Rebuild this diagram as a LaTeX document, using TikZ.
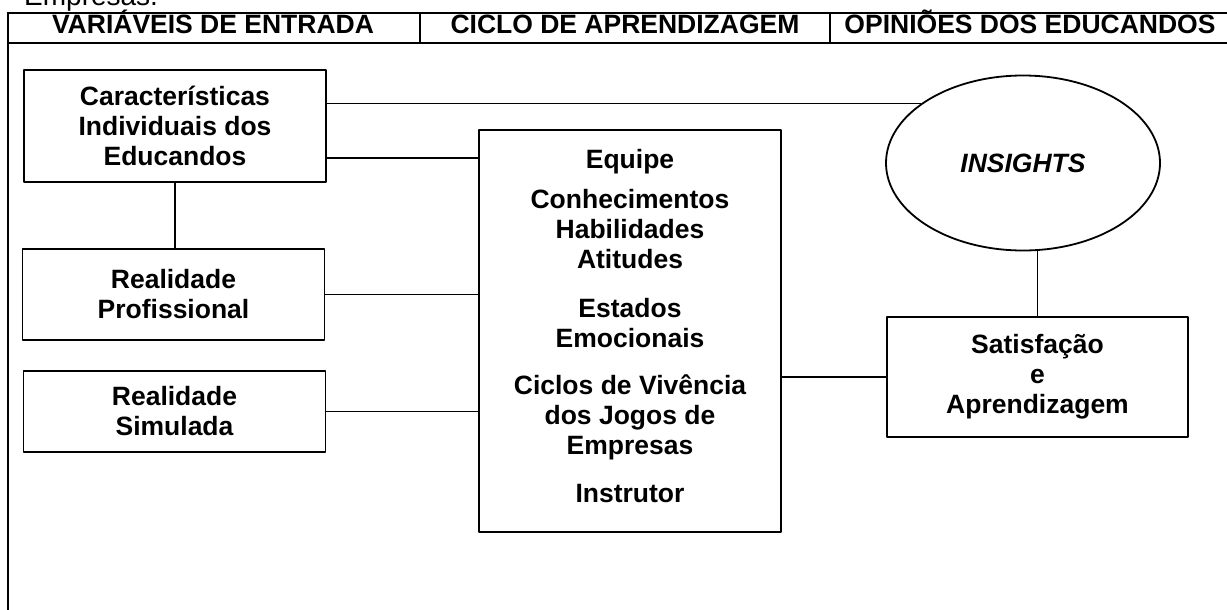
\documentclass[tikz,border=0pt]{standalone}
\usepackage{fontspec}
\setmainfont{Liberation Sans}
\usetikzlibrary{shapes.geometric}

\begin{document}
\begin{tikzpicture}[x=1pt, y=-1pt, line cap=round, line join=round,
  caixa/.style={draw, line width=1.6pt, rectangle, minimum width=302pt, inner sep=0pt, align=center, font=\fontsize{26.5}{30}\selectfont\bfseries},
  titulo/.style={anchor=base, inner sep=0pt, font=\fontsize{26.5}{30}\selectfont\bfseries},
  liga/.style={line width=1.3pt}]
\useasboundingbox (0,0) rectangle (1227,610);

% cabecalho da tabela
\node[anchor=base west, inner sep=0pt, font=\fontsize{28}{30}\selectfont] (emp) at (24,6) {Empresas.};
\draw[line width=2.2pt] (8,13) -- (1230,13);
\draw[line width=2.2pt] (8,43) -- (1230,43);
\draw[line width=2.2pt] (8,13) -- (8,612);
\draw[line width=1.8pt] (420,13) -- (420,43);
\draw[line width=1.8pt] (830,13) -- (830,43);
\node[titulo] (hEnt) at (213,34) {VARIÁVEIS DE ENTRADA};
\node[titulo] (hCic) at (625,34) {CICLO DE APRENDIZAGEM};
\node[titulo] (hOpi) at (1030,34) {OPINIÕES DOS EDUCANDOS};

% variaveis de entrada
\node[caixa, minimum height=112pt] (car) at (175,126) {Características\\Individuais dos\\Educandos};
\node[caixa, minimum height=91pt] (rpro) at (173.5,294.5) {Realidade\\Profissional};
\node[caixa, minimum height=81pt] (rsim) at (174.5,411.5) {Realidade\\Simulada};

% ciclo de aprendizagem (ancora na ultima linha)
\node[caixa, minimum height=402pt] (cen) at (630,331) {};
\node[titulo, align=center] (lista) at (630,502) {Equipe\\[10pt]Conhecimentos\\Habilidades\\Atitudes\\[19pt]Estados\\Emocionais\\[17pt]Ciclos de Vivência\\dos Jogos de\\Empresas\\[18pt]Instrutor};

% opinioes
\node[draw, ellipse, line width=1.8pt, minimum width=274pt, minimum height=175pt, inner sep=0pt, font=\fontsize{26.5}{30}\selectfont\bfseries\itshape] (ins) at (1023,163) {INSIGHTS};
\node[caixa, minimum width=301pt, minimum height=120pt] (sat) at (1037.5,377) {Satisfação\\e\\Aprendizagem};

% ligacoes
\coordinate (y1) at (0,158);
\draw[liga] (car.east |- ins.150.5) -- (ins.150.5);
\draw[liga] (car.east |- y1) -- (cen.west |- y1);
\draw[liga] (car.south) -- (car.south |- rpro.north);
\draw[liga] (rpro.east) -- (cen.west |- rpro.east);
\draw[liga] (rsim.east) -- (cen.west |- rsim.east);
\draw[liga] (cen.east |- sat.west) -- (sat.west);
\draw[liga] (sat.north |- ins.south) -- (sat.north);
\end{tikzpicture}
\end{document}
